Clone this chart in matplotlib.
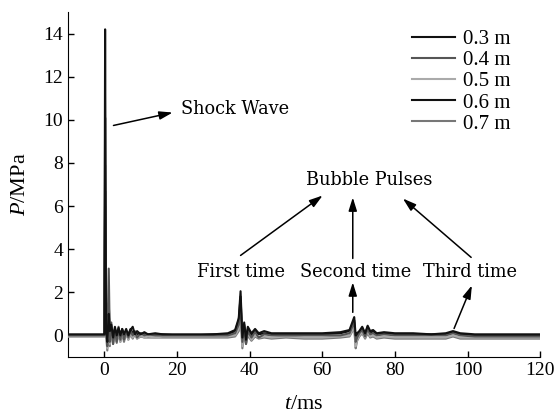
import matplotlib
matplotlib.use("Agg")
import matplotlib.pyplot as plt

plt.rcParams['font.family'] = ['Liberation Serif', 'DejaVu Serif']
plt.rcParams['mathtext.fontset'] = 'custom'
plt.rcParams['mathtext.it'] = 'Liberation Serif:italic'
plt.rcParams['mathtext.rm'] = 'Liberation Serif'

# time axis (ms), shared by all gauges
t_ms = [-10, -0.3, 0.0, 0.2, 0.45, 0.8, 1.2, 1.5, 1.9, 2.4,
        2.9, 3.4, 3.9, 4.4, 4.9, 5.4, 6.0, 6.6, 7.2, 7.8,
        8.4, 9.0, 10, 11, 12, 14, 16, 20, 25, 30,
        34, 36, 37, 37.5, 38, 38.5, 39, 39.5, 40.5, 41.5,
        42.5, 44, 46, 50, 55, 60, 65, 67.5, 68.8, 69.2,
        69.6, 70.2, 71, 71.8, 72.5, 73.2, 74, 75, 77, 80,
        85, 90, 94, 96, 98, 102, 110, 120]

# pressure (MPa) at each gauge distance
p_03 = [0.05, 0.05, 0.05, 14.2, 0.3, -0.3, 1.0, 0.2, 0.5, -0.1,
        0.4, 0.0, 0.35, 0.0, 0.3, 0.05, 0.3, 0.0, 0.25, 0.4,
        0.05, 0.2, 0.05, 0.15, 0.05, 0.1, 0.05, 0.05, 0.05, 0.05,
        0.1, 0.25, 0.8, 2.05, -0.1, 0.6, -0.2, 0.4, 0.1, 0.3,
        0.1, 0.2, 0.1, 0.1, 0.1, 0.1, 0.15, 0.25, 0.85, 0.0,
        0.1, 0.2, 0.4, 0.1, 0.45, 0.2, 0.25, 0.1, 0.15, 0.1,
        0.1, 0.05, 0.1, 0.2, 0.1, 0.05, 0.05, 0.05]
p_04 = [0.0, 0.0, 0.0, 10.1, 0.5, -0.5, 3.1, -0.3, 0.6, -0.4,
        0.3, -0.3, 0.4, -0.2, 0.3, -0.2, 0.2, -0.1, 0.2, 0.0,
        0.2, -0.1, 0.1, 0.0, 0.05, 0.0, 0.0, 0.0, 0.0, 0.0,
        0.0, 0.1, 0.5, 1.5, -0.3, 0.4, -0.4, 0.2, -0.1, 0.15,
        -0.1, 0.05, 0.0, 0.0, 0.0, 0.0, 0.0, 0.1, 0.6, -0.3,
        -0.1, 0.1, 0.25, -0.05, 0.3, 0.05, 0.1, 0.0, 0.05, 0.0,
        0.0, 0.0, 0.0, 0.1, 0.0, -0.05, -0.05, -0.05]
p_05 = [-0.05, -0.05, -0.05, 7.9, 0.2, -0.6, 0.8, -0.4, 0.5, -0.3,
        0.3, -0.3, 0.2, -0.3, 0.2, -0.2, 0.15, -0.2, 0.1, -0.1,
        0.1, -0.15, 0.0, -0.1, -0.05, -0.1, -0.05, -0.05, -0.05, -0.05,
        -0.05, 0.0, 0.3, 1.1, -0.5, 0.2, -0.3, 0.1, -0.2, 0.0,
        -0.1, -0.05, -0.1, -0.05, -0.1, -0.1, -0.05, 0.0, 0.4, -0.5,
        -0.2, 0.0, 0.15, -0.1, 0.2, -0.05, 0.0, -0.1, -0.05, -0.1,
        -0.1, -0.1, -0.1, 0.0, -0.1, -0.1, -0.1, -0.1]
p_06 = [0.0, 0.0, 0.0, 6.7, 0.4, -0.2, 1.5, 0.1, 0.4, 0.0,
        0.3, 0.05, 0.3, 0.05, 0.25, 0.0, 0.2, 0.05, 0.3, 0.1,
        0.15, 0.05, 0.1, 0.05, 0.05, 0.05, 0.05, 0.0, 0.0, 0.05,
        0.05, 0.2, 0.7, 1.8, -0.3, 0.5, -0.2, 0.3, 0.0, 0.2,
        0.05, 0.1, 0.05, 0.05, 0.05, 0.05, 0.1, 0.2, 0.7, -0.2,
        0.0, 0.15, 0.35, 0.05, 0.4, 0.1, 0.2, 0.05, 0.1, 0.05,
        0.05, 0.05, 0.05, 0.15, 0.05, 0.0, 0.0, 0.0]
p_07 = [-0.05, -0.05, -0.05, 6.0, 0.1, -0.7, 0.6, -0.5, 0.3, -0.4,
        0.2, -0.35, 0.15, -0.3, 0.1, -0.3, 0.1, -0.2, 0.05, -0.15,
        0.05, -0.15, -0.05, -0.1, -0.1, -0.1, -0.1, -0.1, -0.1, -0.1,
        -0.1, -0.05, 0.2, 0.9, -0.6, 0.1, -0.4, 0.0, -0.25, -0.05,
        -0.15, -0.1, -0.15, -0.1, -0.15, -0.15, -0.1, -0.05, 0.35, -0.6,
        -0.25, -0.05, 0.1, -0.15, 0.1, -0.1, -0.05, -0.15, -0.1, -0.15,
        -0.15, -0.15, -0.15, -0.05, -0.15, -0.15, -0.15, -0.15]

labels = ['0.3 m', '0.4 m', '0.5 m', '0.6 m', '0.7 m']
series = [p_03, p_04, p_05, p_06, p_07]
colors = ['#111111', '#555555', '#aaaaaa', '#111111', '#777777']

fig = plt.figure(figsize=(5.58, 4.17), dpi=100)
ax = fig.add_axes([0.122, 0.144, 0.846, 0.827])

for i, (p, lab, c) in enumerate(zip(series, labels, colors)):
    ax.plot(t_ms, p, color=c, lw=1.5, label=lab, zorder=10 - i)

ax.set_xlim(-10, 120)
ax.set_ylim(-1, 15)
ax.set_xticks(range(0, 121, 20))
ax.set_yticks(range(0, 15, 2))
ax.tick_params(direction='in', labelsize=14, length=4, width=1)
for s in ['top', 'right']:
    ax.spines[s].set_visible(False)

ax.set_xlabel('$t$/ms', fontsize=16, labelpad=12)
ax.set_ylabel('$P$/MPa', fontsize=16, labelpad=10)

ax.legend(loc='upper left', bbox_to_anchor=(0.688, 1.003), frameon=False,
          fontsize=15, handlelength=2.1, handletextpad=0.35, labelspacing=0.07)

# annotation text in a wider serif face
note = dict(fontsize=12.8, family=['DejaVu Serif'])
arrow = dict(arrowstyle='-|>,head_length=0.8,head_width=0.25', color='black', lw=1.1,
             shrinkA=0, shrinkB=0)
ax.annotate('', xy=(18.8, 10.34), xytext=(2.5, 9.74), arrowprops=arrow)
ax.text(21.2, 10.52, 'Shock Wave', va='center', ha='left', **note)

ax.text(72.8, 7.19, 'Bubble Pulses', va='center', ha='center', **note)
ax.annotate('', xy=(60.1, 6.49), xytext=(37.5, 3.71), arrowprops=arrow)
ax.annotate('', xy=(68.4, 6.40), xytext=(68.4, 3.57), arrowprops=arrow)
ax.annotate('', xy=(82.2, 6.35), xytext=(101.0, 3.62), arrowprops=arrow)

ax.text(37.5, 2.92, 'First time', va='center', ha='center', **note)
ax.text(69.2, 2.92, 'Second time', va='center', ha='center', **note)
ax.text(100.7, 2.92, 'Third time', va='center', ha='center', **note)
ax.annotate('', xy=(68.4, 2.46), xytext=(68.4, 1.07), arrowprops=arrow)
ax.annotate('', xy=(101.2, 2.32), xytext=(96.3, 0.32), arrowprops=arrow)

fig.savefig('out.png', dpi=100)
